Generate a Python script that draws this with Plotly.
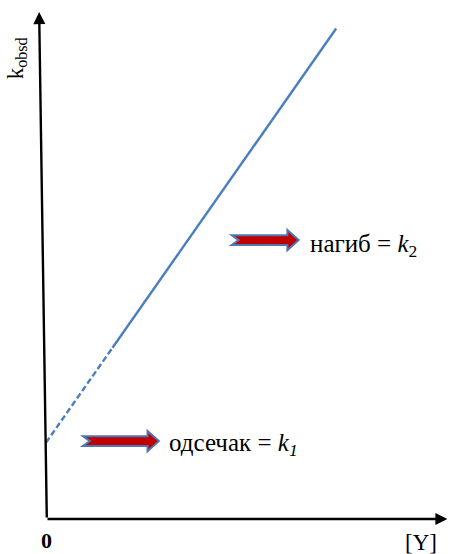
import plotly.graph_objects as go

# Linear dependence k_obsd = k1 + k2*[Y]
k1 = 0.15          # intercept (одсечак)
k2 = 1.13          # slope (нагиб)
x_dashed = [0.0, 0.165]   # extrapolated part of the line
x_solid = [0.165, 0.72]   # measured part of the line

y_dashed = [k1 + k2 * v for v in x_dashed]
y_solid = [k1 + k2 * v for v in x_solid]

LINE_BLUE = "#4a7ebf"
SERIF = "Liberation Serif"
PLOT_W, PLOT_H = 403, 509

fig = go.Figure()
fig.add_trace(go.Scatter(x=x_dashed, y=y_dashed, mode="lines",
                         line=dict(color=LINE_BLUE, width=2.4, dash="6px,3px"),
                         hoverinfo="skip"))
fig.add_trace(go.Scatter(x=x_solid, y=y_solid, mode="lines",
                         line=dict(color=LINE_BLUE, width=2.4),
                         hoverinfo="skip"))

annotations = []
# axes drawn as arrows (tail offsets in pixels from the tip)
annotations.append(dict(x=-0.017, y=0.996, xref="paper", yref="paper",
                        axref="pixel", ayref="pixel",
                        ax=0.019 * PLOT_W, ay=0.996 * PLOT_H,
                        showarrow=True, arrowhead=2, arrowsize=1.0,
                        arrowwidth=2.4, arrowcolor="black", text=""))
annotations.append(dict(x=0.996, y=0.0, xref="paper", yref="paper",
                        axref="pixel", ayref="pixel", ax=-0.996 * PLOT_W, ay=0,
                        showarrow=True, arrowhead=2, arrowsize=1.0,
                        arrowwidth=2.4, arrowcolor="black", text=""))

# axis labels
annotations.append(dict(x=-0.072, y=0.905, xref="paper", yref="paper", showarrow=False,
                        xanchor="center", yanchor="middle",
                        text="k<sub>obsd</sub>", textangle=-90,
                        font=dict(family=SERIF, size=23, color="black")))
annotations.append(dict(x=0.0, y=-0.043, xref="paper", yref="paper", showarrow=False,
                        xanchor="center", yanchor="middle",
                        text="<b>0</b>", font=dict(family=SERIF, size=22, color="black")))
annotations.append(dict(x=0.93, y=-0.046, xref="paper", yref="paper", showarrow=False,
                        xanchor="center", yanchor="middle",
                        text="[Y]", font=dict(family=SERIF, size=23, color="black")))

# labels next to the block arrows
annotations.append(dict(x=0.65, y=0.538, xref="x", yref="y", showarrow=False,
                        xanchor="left", yanchor="middle",
                        text="нагиб = <i>k</i><sub>2</sub>",
                        font=dict(family=SERIF, size=25, color="black")))
annotations.append(dict(x=0.30, y=0.146, xref="x", yref="y", showarrow=False,
                        xanchor="left", yanchor="middle",
                        text="одсечак = <i>k<sub>1</sub></i>",
                        font=dict(family=SERIF, size=25, color="black")))


def block_arrow(x0, x1, yc, sh=0.0095, hh=0.02, head=0.028, notch=0.017):
    """Notched block arrow path in data units."""
    xh = x1 - head
    pts = [(x0, yc + sh), (xh, yc + sh), (xh, yc + hh), (x1, yc),
           (xh, yc - hh), (xh, yc - sh), (x0, yc - sh), (x0 + notch, yc)]
    return "M " + " L ".join(f"{px},{py}" for px, py in pts) + " Z"


shapes = [
    dict(type="path", xref="x", yref="y", path=block_arrow(0.461, 0.627, 0.548),
         fillcolor="#c00000", line=dict(color="#4f75b3", width=2)),
    dict(type="path", xref="x", yref="y", path=block_arrow(0.092, 0.28, 0.153),
         fillcolor="#c00000", line=dict(color="#4f75b3", width=2)),
]

fig.update_layout(
    width=449, height=554,
    margin=dict(l=46, r=0, t=10, b=35),
    paper_bgcolor="white", plot_bgcolor="white",
    showlegend=False,
    xaxis=dict(range=[0, 1], visible=False, fixedrange=True),
    yaxis=dict(range=[0, 1], visible=False, fixedrange=True),
    annotations=annotations,
    shapes=shapes,
)

fig.write_html("out.html")
